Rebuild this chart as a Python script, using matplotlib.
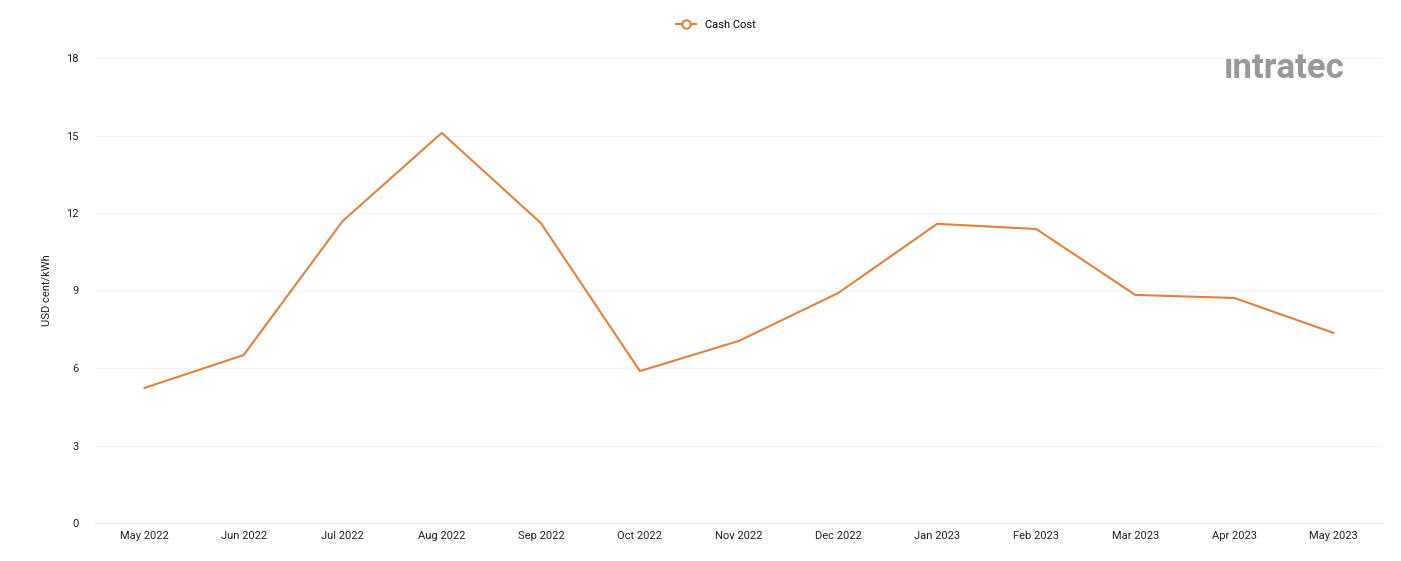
import matplotlib
matplotlib.use("Agg")
import matplotlib.pyplot as plt
from matplotlib.lines import Line2D

months = ["May 2022","Jun 2022","Jul 2022","Aug 2022","Sep 2022","Oct 2022","Nov 2022",
          "Dec 2022","Jan 2023","Feb 2023","Mar 2023","Apr 2023","May 2023"]
cash_cost = [5.23, 6.5, 11.69, 15.1, 11.61, 5.88, 7.05, 8.9, 11.58, 11.38, 8.83, 8.71, 7.36]
yticks = [0, 3, 6, 9, 12, 15, 18]

plt.rcParams['font.family'] = ['Roboto', 'DejaVu Sans']
color = "#E0823D"
fig = plt.figure(figsize=(14.01, 5.61), dpi=100)
W, H = 1401, 561
ax = fig.add_axes([95/W, 38/H, (1383-95)/W, (523-58)/H])
x = list(range(len(months)))
ax.plot(x, cash_cost, color=color, lw=1.5)
ax.set_xlim(-0.5, len(months)-0.5)
ax.set_ylim(0, 18)
ax.set_yticks(yticks)
ax.set_xticks(x)
ax.set_xticklabels(months, fontsize=8, color="#222222")
ax.tick_params(axis='y', labelsize=8, colors="#222222", length=0, pad=12)
ax.tick_params(axis='x', length=0, pad=6)
ax.grid(axis='y', color="#f2f2f2", lw=0.8)
for s in ["top", "right", "left"]:
    ax.spines[s].set_visible(False)
ax.spines["bottom"].set_color("#e6e6e6")
ax.set_ylabel("USD cent/kWh", fontsize=8, color="#222222", labelpad=10)

handle = Line2D([0], [0], color=color, lw=1.5, marker='o', markersize=6,
                markerfacecolor='white', markeredgecolor=color, markeredgewidth=1.5)
fig.legend([handle], ["Cash Cost"], loc="center", bbox_to_anchor=(716/W, 1-25/H),
           frameon=False, fontsize=8, handlelength=1.8)

fig.text(1224/W, 1-68/H, "ıntratec", fontsize=25, color="#999999", fontweight='bold',
         va='center', ha='left')

fig.savefig("out.png", dpi=100, facecolor="white")
